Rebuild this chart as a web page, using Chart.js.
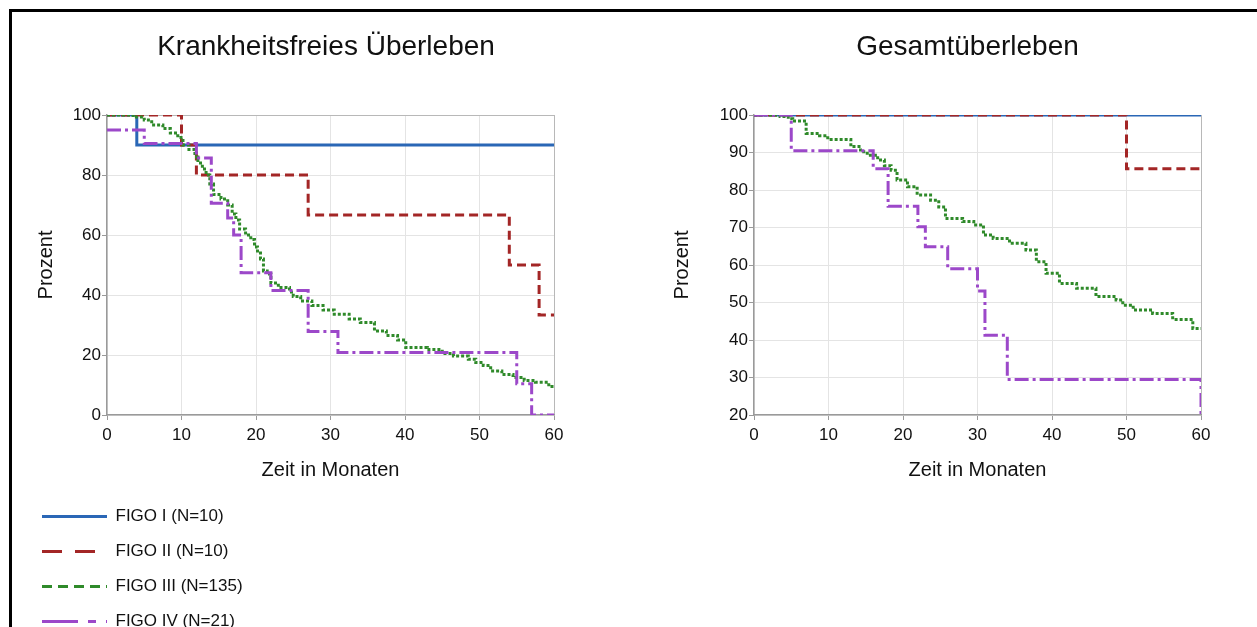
<!DOCTYPE html>
<html>
<head>
<meta charset="utf-8">
<script src="https://cdn.jsdelivr.net/npm/chart.js@4"></script>
<style>
  html, body { margin: 0; padding: 0; background: #fff; overflow: hidden; width: 1257px; height: 627px; }
  .frame { position: absolute; left: 9px; top: 9px; width: 1400px; height: 800px; border-left: 3px solid #000; border-top: 3px solid #000; }
  canvas { position: absolute; }
</style>
</head>
<body>
<div class="frame"></div>
<canvas id="dfs" width="612" height="485" style="left:20px;top:0"></canvas>
<canvas id="os" width="615" height="485" style="left:660px;top:0"></canvas>
<canvas id="legend" width="300" height="360" style="left:24px;top:490px"></canvas>
<script>
// groups
const groupLabels = ['FIGO I (N=10)', 'FIGO II (N=10)', 'FIGO III (N=135)', 'FIGO IV (N=21)'];

// axis ticks
const monthTicks = [0, 10, 20, 30, 40, 50, 60];
const dfsPctTicks = [0, 20, 40, 60, 80, 100];
const osPctTicks = [20, 30, 40, 50, 60, 70, 80, 90, 100];

// Krankheitsfreies Ueberleben (Monate / Prozent)
const dfsMonthsI = [0, 4, 60];
const dfsPctI = [100, 90, 90];
const dfsMonthsII = [0, 10, 12, 27, 54, 58, 60];
const dfsPctII = [100, 90, 80, 66.7, 50, 33.3, 33.3];
const dfsMonthsIII = [0, 3.5, 5, 6, 7.5, 8.5, 9.5, 10.2, 11, 11.8, 12.2, 12.8, 13.3, 13.8, 14.3, 15.3,
  16.2, 16.8, 17.3, 17.8, 18.6, 19.3, 19.8, 20.2, 20.6, 21, 21.5, 22, 23, 24.5, 25, 26, 27.5, 29,
  30.5, 32.5, 34, 35.9, 37.5, 39, 40.1, 43, 45, 46.5, 48.5, 49.5, 50.5, 51.5, 53, 54.5, 56, 57.5, 59.3, 60];
const dfsPctIII = [100, 99.3, 98.3, 96.7, 95.5, 94, 92.5, 90, 88.5, 86, 84, 82, 80, 77, 73.5, 72,
  70, 67, 65, 62, 60, 58.5, 56, 54, 52, 48, 47, 44, 42.5, 41, 39.5, 38, 36.5, 35,
  33.6, 32, 30.8, 28, 26.5, 25, 22.5, 21.8, 20.5, 19.7, 18.6, 17.5, 16.5, 14.7, 13.5, 12.5, 11.5, 10.9, 9.5, 9.5];
const dfsMonthsIV = [0, 5, 12, 14, 16.2, 17, 18, 22, 27, 31, 55, 57, 60];
const dfsPctIV = [95, 90.5, 85.7, 70.6, 65.7, 60, 47.4, 41.5, 27.8, 20.8, 10.4, 0, 0];

// Gesamtueberleben (Monate / Prozent)
const osMonthsI = [0, 60];
const osPctI = [100, 100];
const osMonthsII = [0, 50, 60];
const osPctII = [100, 85.7, 85.7];
const osMonthsIII = [0, 3.5, 4.6, 5.2, 7, 8.8, 9.9, 13, 14.3, 15.2, 16.6, 17.5, 18.4, 19.2, 20.6, 21.9,
  23.7, 24.8, 25.7, 28, 29.5, 30.8, 32.1, 34.3, 36.5, 37.9, 39.2, 41, 43.3, 45.9, 48.6, 49.5, 50.9,
  53.5, 56.2, 58.9, 60];
const osPctIII = [100, 99.6, 99, 98.4, 95.1, 94.5, 93.5, 91.6, 90.2, 89.3, 88, 86.5, 85.3, 82.7, 80.9, 78.7,
  77.3, 75.5, 72.4, 71.6, 70.7, 68, 67.1, 65.8, 64, 60.9, 57.8, 55.1, 53.8, 51.6, 50.7, 49.3, 48,
  47.1, 45.5, 43.1, 43.1];
const osMonthsIV = [0, 5, 16, 18, 22, 23, 26, 30, 31, 34, 60];
const osPctIV = [100, 90.5, 85.7, 75.7, 70.2, 64.9, 59, 53.1, 41.3, 29.5, 20];

// styles
const lineColors = ['#2a67b6', '#a32626', '#2f8a2a', '#9c48c9'];
const chartDash = [[], [9, 5], [3, 2], [14, 4, 3, 4]];
const legendDash = [[], [20, 13], [10, 6], [36, 10, 8, 10]];

Chart.defaults.font.family = '"Liberation Sans", Arial, sans-serif';
Chart.defaults.color = '#111';

const buildDatasets = (monthsList, pctList) => monthsList.map((months, i) => ({
  label: groupLabels[i],
  data: months.map((m, j) => ({ x: m, y: pctList[i][j] })),
  borderColor: lineColors[i],
  backgroundColor: lineColors[i],
  borderWidth: 3,
  borderDash: chartDash[i],
  stepped: 'before',
  pointRadius: 0,
  fill: false,
  order: 4 - i
}));

const gridColor = (ctx) => ctx.index === ctx.scale.ticks.length - 1 ? '#b8b8b8' : '#e4e4e4';

const makeOptions = (title, yTicks, yBoxWidth, rightBoxWidth, yTitlePad) => ({
  responsive: false,
  animation: false,
  layout: { padding: 0 },
  plugins: {
    legend: { display: false },
    tooltip: { enabled: false },
    title: {
      display: true,
      text: title,
      color: '#111',
      font: { size: 28, weight: 'normal' },
      padding: { top: 30, bottom: 51.4 }
    }
  },
  scales: {
    x: {
      type: 'linear',
      min: monthTicks[0],
      max: monthTicks[monthTicks.length - 1],
      afterBuildTicks: (s) => { s.ticks = monthTicks.map(v => ({ value: v })); },
      ticks: { font: { size: 17 }, color: '#111', padding: 5, maxRotation: 0 },
      grid: { color: gridColor, tickColor: '#9a9a9a', tickLength: 5 },
      border: { color: '#9a9a9a', width: 1.5 },
      title: { display: true, text: 'Zeit in Monaten', color: '#111', font: { size: 20 }, padding: { top: 0, bottom: 3 } },
      afterFit: (s) => { s.height = 70; }
    },
    y: {
      type: 'linear',
      min: yTicks[0],
      max: yTicks[yTicks.length - 1],
      afterBuildTicks: (s) => { s.ticks = yTicks.map(v => ({ value: v })); },
      ticks: { font: { size: 17 }, color: '#111', padding: 1 },
      grid: { color: gridColor, tickColor: '#9a9a9a', tickLength: 5 },
      border: { color: '#9a9a9a', width: 1.5 },
      title: { display: true, text: 'Prozent', color: '#111', font: { size: 20 }, padding: { top: yTitlePad, bottom: 0 } },
      afterFit: (s) => { s.width = yBoxWidth; }
    },
    yr: {
      type: 'linear',
      position: 'right',
      grid: { display: false },
      border: { display: false },
      ticks: { display: false },
      afterFit: (s) => { s.width = rightBoxWidth; }
    }
  }
});

new Chart(document.getElementById('dfs'), {
  type: 'line',
  data: {
    datasets: buildDatasets(
      [dfsMonthsI, dfsMonthsII, dfsMonthsIII, dfsMonthsIV],
      [dfsPctI, dfsPctII, dfsPctIII, dfsPctIV]
    )
  },
  options: makeOptions('Krankheitsfreies Überleben', dfsPctTicks, 87, 78, 14)
});

new Chart(document.getElementById('os'), {
  type: 'line',
  data: {
    datasets: buildDatasets(
      [osMonthsI, osMonthsII, osMonthsIII, osMonthsIV],
      [osPctI, osPctII, osPctIII, osPctIV]
    )
  },
  options: makeOptions('Gesamtüberleben', osPctTicks, 94, 74, 10)
});

// legend below the left chart, one entry per row
new Chart(document.getElementById('legend'), {
  type: 'line',
  data: {
    datasets: groupLabels.map((label, i) => ({ label, data: [], borderColor: lineColors[i] }))
  },
  options: {
    responsive: false,
    animation: false,
    layout: { padding: 0 },
    scales: { x: { display: false }, y: { display: false } },
    plugins: {
      tooltip: { enabled: false },
      legend: {
        position: 'top',
        align: 'start',
        onClick: () => {},
        labels: {
          usePointStyle: true,
          pointStyle: 'line',
          pointStyleWidth: 65,
          padding: 18,
          color: '#111',
          font: { size: 17 },
          generateLabels: (chart) => chart.data.datasets.map((ds, i) => ({
            text: ds.label,
            strokeStyle: ds.borderColor,
            fillStyle: ds.borderColor,
            fontColor: '#111',
            lineWidth: 3,
            lineDash: legendDash[i],
            lineCap: 'butt',
            pointStyle: 'line',
            hidden: false,
            datasetIndex: i
          }))
        }
      }
    }
  }
});
</script>
</body>
</html>
